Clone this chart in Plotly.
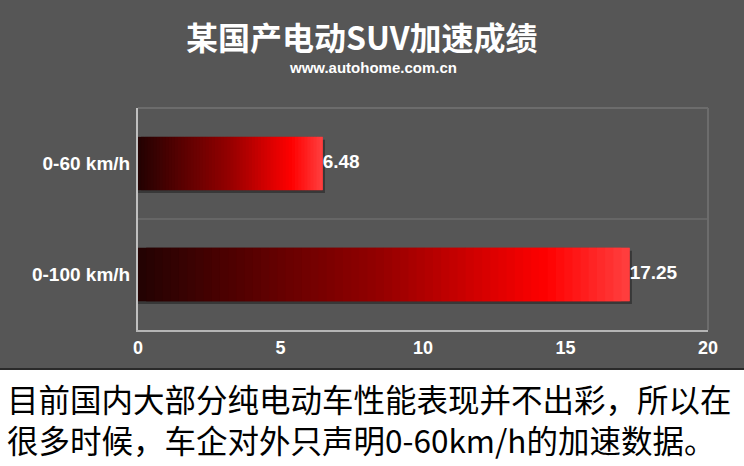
import plotly.graph_objects as go

categories = ["0-60 km/h", "0-100 km/h"]
values = [6.48, 17.25]
x_ticks = [0, 5, 10, 15, 20]
title_text = "某国产电动SUV加速成绩"
subtitle_text = "www.autohome.com.cn"
note_lines = ["目前国内大部分纯电动车性能表现并不出彩，所以在",
              "很多时候，车企对外只声明0-60km/h的加速数据。"]

W, H = 744, 466
L, R, T, B = 138, 36, 108, 136
pw, ph = W - L - R, H - T - B

def px(x):
    return (x - L) / pw

def py(y):
    return (H - B - y) / ph

# gradient stops (fraction, rgb)
stops = [(0.0, (34, 2, 2)), (0.5, (150, 0, 0)), (0.83, (255, 0, 0)), (1.0, (255, 64, 64))]

def color_at(f):
    for (f0, c0), (f1, c1) in zip(stops[:-1], stops[1:]):
        if f0 <= f <= f1:
            t = (f - f0) / (f1 - f0)
            c = [round(a + (b - a) * t) for a, b in zip(c0, c1)]
            return "rgb(%d,%d,%d)" % tuple(c)
    return "rgb(%d,%d,%d)" % stops[-1][1]

BW = 0.48
fig = go.Figure()
# soft drop shadow
fig.add_trace(go.Bar(
    y=categories, x=[v + 0.08 for v in values], base=[0, 0], orientation="h",
    marker=dict(color="rgba(25,25,25,0.5)", line=dict(width=0)),
    width=BW, offset=-BW / 2 + 0.025, showlegend=False, hoverinfo="skip"))
N = 60
for i in range(N):
    f = (i + 0.5) / N
    span = 1.0 if i == N - 1 else 2.0  # overlap next segment to hide seams
    fig.add_trace(go.Bar(
        y=categories, x=[v / N * span for v in values], base=[v * i / N for v in values],
        orientation="h", marker=dict(color=color_at(f), line=dict(width=0)),
        width=BW, offset=-BW / 2, showlegend=False, hoverinfo="skip"))

fig.add_trace(go.Scatter(
    y=categories, x=values, mode="text",
    text=["<b>%.2f</b>" % v for v in values], textposition="middle right",
    textfont=dict(family="Liberation Sans, Arial", size=19, color="white"),
    showlegend=False, hoverinfo="skip", cliponaxis=False))

shapes = [
    dict(type="line", xref="paper", yref="paper", x0=0, x1=1, y0=1, y1=1,
         line=dict(color="#6c6c6c", width=2)),
    dict(type="line", xref="paper", yref="paper", x0=1, x1=1, y0=0, y1=1,
         line=dict(color="#6c6c6c", width=2)),
    dict(type="line", xref="paper", yref="paper", x0=0, x1=1, y0=0.5, y1=0.5,
         line=dict(color="#6c6c6c", width=1.5), layer="below"),
    dict(type="rect", xref="paper", yref="paper", x0=px(-2), x1=px(W + 2), y0=py(369), y1=py(H + 2),
         fillcolor="white", line=dict(color="#2a2a2a", width=2), layer="above"),
]

annotations = [
    dict(text="<b>%s</b>" % title_text, xref="paper", yref="paper", x=px(361), y=py(36),
         showarrow=False, font=dict(family="Noto Sans CJK SC", size=32, color="white"),
         xanchor="center", yanchor="middle"),
    dict(text="<b>%s</b>" % subtitle_text, xref="paper", yref="paper", x=px(373), y=py(67),
         showarrow=False, font=dict(family="Liberation Sans, Arial", size=15, color="white"),
         xanchor="center", yanchor="middle"),
    dict(text="<br>".join(note_lines), xref="paper", yref="paper", x=px(5), y=py(418),
         showarrow=False, font=dict(family="Noto Sans CJK SC", size=31.5, color="black"),
         xanchor="left", yanchor="middle", align="left"),
]

fig.update_layout(
    width=W, height=H, margin=dict(l=L, r=R, t=T, b=B),
    paper_bgcolor="#565656", plot_bgcolor="#565656",
    barmode="overlay",
    shapes=shapes, annotations=annotations,
    xaxis=dict(range=[0, 20], tickvals=x_ticks, ticktext=["<b>%d</b>" % t for t in x_ticks],
               showgrid=False, zeroline=False, showline=True, linecolor="#b5b5b5", linewidth=2,
               tickfont=dict(family="Liberation Sans, Arial", size=18, color="white"), ticks="",
               fixedrange=True),
    yaxis=dict(categoryorder="array", categoryarray=categories, autorange="reversed",
               tickvals=categories, ticktext=["<b>%s</b>" % c for c in categories],
               showgrid=False, zeroline=False, showline=True, linecolor="#c0c0c0", linewidth=2,
               tickfont=dict(family="Liberation Sans, Arial", size=19, color="white"), ticks="",
               ticklabelstandoff=2, fixedrange=True),
)

fig.write_html("out.html", config={"displayModeBar": False},
               post_script="document.body.style.margin='0px';")
